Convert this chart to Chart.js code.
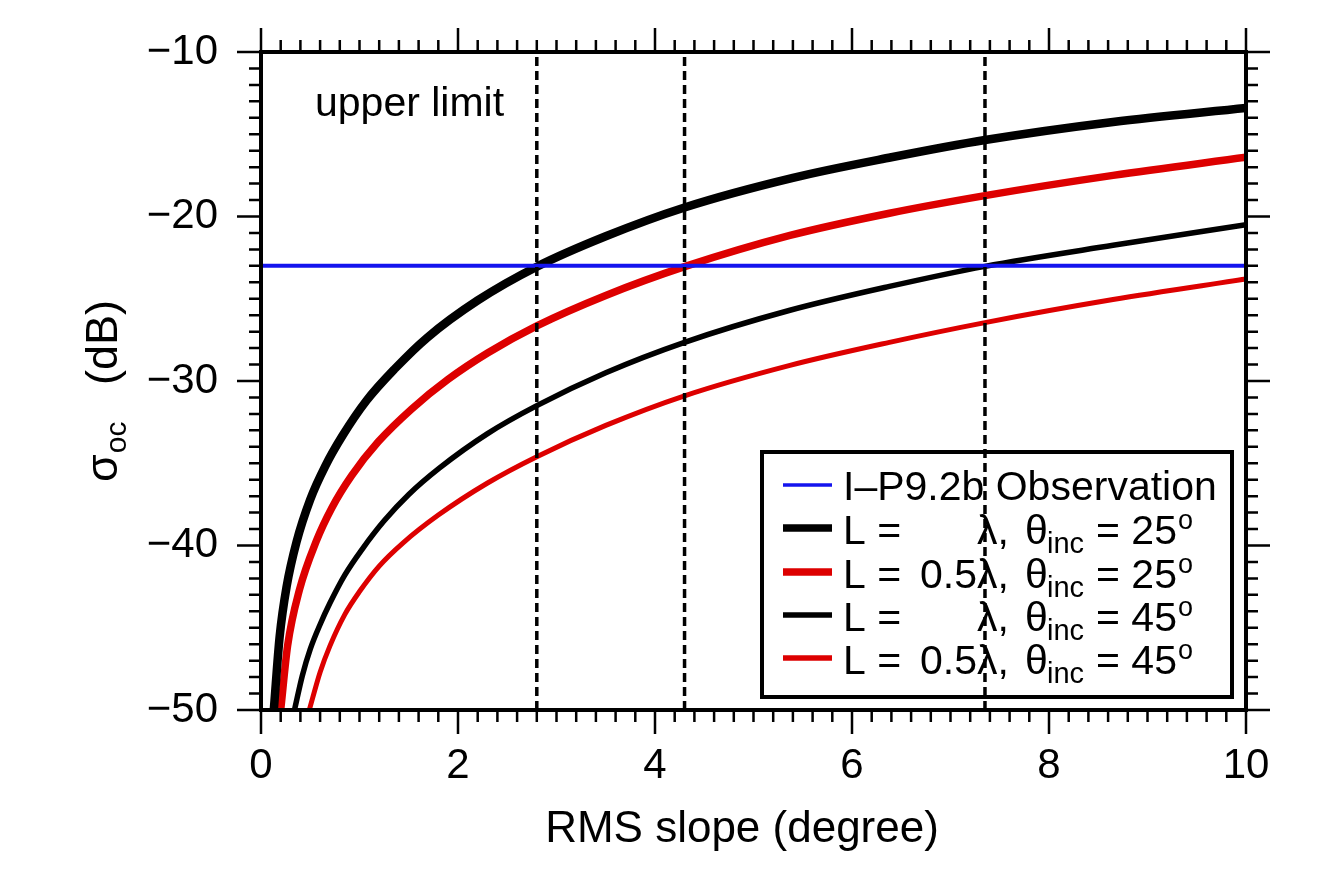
<!DOCTYPE html>
<html>
<head>
<meta charset="utf-8">
<script src="https://cdn.jsdelivr.net/npm/chart.js@4.4.0/dist/chart.umd.min.js"></script>
<style>
html, body { margin: 0; padding: 0; background: #fff; }
#wrap { width: 1339px; height: 872px; }
</style>
</head>
<body>
<div id="wrap"><canvas id="chart_sigma" width="1339" height="872"></canvas></div>
<script>
const FONT = "'Liberation Sans', Arial, Helvetica, sans-serif";

// RMS slope (degree) vs sigma_oc (dB)
const slopeLam25 = [0.13, 0.19, 0.26, 0.36, 0.50, 0.65, 0.83, 1.07, 1.36, 1.69, 2.20, 2.80, 3.50, 4.30, 5.40, 6.40, 7.35, 8.65, 10.0];
const sigmaLam25 = [-50, -45.5, -42.5, -39.8, -37.2, -35.2, -33.3, -31.2, -29.25, -27.35, -25.1, -23.05, -21.2, -19.45, -17.65, -16.4, -15.35, -14.25, -13.4];

const slopeHalf25 = [0.20, 0.27, 0.39, 0.56, 0.72, 0.92, 1.19, 1.53, 1.90, 2.30, 2.80, 3.50, 4.30, 5.37, 6.38, 7.35, 8.65, 10.0];
const sigmaHalf25 = [-50, -46.1, -42.7, -39.75, -37.7, -35.75, -33.7, -31.7, -29.9, -28.3, -26.65, -24.8, -23.05, -21.15, -19.8, -18.73, -17.5, -16.4];

const slopeLam45 = [0.34, 0.42, 0.50, 0.60, 0.70, 0.85, 1.03, 1.25, 1.50, 1.81, 2.30, 2.80, 3.50, 4.30, 5.37, 6.38, 7.35, 8.65, 10.0];
const sigmaLam45 = [-50, -47.9, -46.3, -44.8, -43.5, -41.8, -40.2, -38.5, -36.9, -35.3, -33.2, -31.5, -29.5, -27.65, -25.7, -24.25, -23.03, -21.75, -20.5];

const slopeHalf45 = [0.49, 0.60, 0.70, 0.85, 1.00, 1.20, 1.44, 1.80, 2.30, 2.80, 3.50, 4.30, 5.37, 6.38, 7.35, 8.65, 10.0];
const sigmaHalf45 = [-50, -47.7, -46.1, -44.2, -42.8, -41.25, -39.85, -38.15, -36.2, -34.6, -32.7, -30.9, -29.05, -27.65, -26.45, -25.05, -23.8];

const observedSigma = -23;
const crossSlopes = [2.8, 4.3, 7.35];

const xTicks = [0, 2, 4, 6, 8, 10];
const yTicks = [-50, -40, -30, -20, -10];
const xMinorStep = 0.2;
const yMinorStep = 1;

const xTitle = 'RMS slope (degree)';
const legendObs = 'I\u2013P9.2b Observation';
const legendScale = ['', '0.5', '', '0.5'];
const legendAngle = ['25', '25', '45', '45'];

function toPoints(xs, ys) {
	return xs.map((v, i) => ({x: v, y: ys[i]}));
}

const BLACK = '#000000';
const RED = '#dd0000';
const BLUE = '#1414ee';

const curveStyles = [
	{color: BLACK, width: 8.5},
	{color: RED, width: 7.5},
	{color: BLACK, width: 5.5},
	{color: RED, width: 5}
];

const datasets = [];
crossSlopes.forEach(function(s) {
	datasets.push({
		data: [{x: s, y: -50}, {x: s, y: -10}],
		borderColor: BLACK, borderWidth: 3.5, borderDash: [9, 5],
		pointRadius: 0, order: 0
	});
});
datasets.push({
	data: [{x: 0, y: observedSigma}, {x: 10, y: observedSigma}],
	borderColor: BLUE, borderWidth: 4, pointRadius: 0, order: 1
});
[[slopeLam25, sigmaLam25], [slopeHalf25, sigmaHalf25], [slopeLam45, sigmaLam45], [slopeHalf45, sigmaHalf45]].forEach(function(c, i) {
	datasets.push({
		data: toPoints(c[0], c[1]),
		borderColor: curveStyles[i].color, borderWidth: curveStyles[i].width,
		pointRadius: 0, cubicInterpolationMode: 'monotone', order: 2 + i
	});
});

// frame and outward ticks on all four sides
const frameTicks = {
	id: 'frameTicks',
	afterDatasetsDraw(chart) {
		const {ctx, chartArea: a, scales: {x, y}} = chart;
		ctx.save();
		ctx.strokeStyle = BLACK;
		ctx.lineWidth = 2.5;
		ctx.beginPath();
		const nx = Math.round((x.max - x.min) / xMinorStep);
		for (let i = 0; i <= nx; i++) {
			const v = x.min + i * xMinorStep;
			const px = x.getPixelForValue(v);
			const len = xTicks.some(t => Math.abs(t - v) < 1e-6) ? 24 : 12;
			ctx.moveTo(px, a.bottom); ctx.lineTo(px, a.bottom + len);
			ctx.moveTo(px, a.top); ctx.lineTo(px, a.top - len);
		}
		const ny = Math.round((y.max - y.min) / yMinorStep);
		for (let i = 0; i <= ny; i++) {
			const v = y.min + i * yMinorStep;
			const py = y.getPixelForValue(v);
			const len = yTicks.some(t => Math.abs(t - v) < 1e-6) ? 24 : 12;
			ctx.moveTo(a.left, py); ctx.lineTo(a.left - len, py);
			ctx.moveTo(a.right, py); ctx.lineTo(a.right + len, py);
		}
		ctx.stroke();
		ctx.lineWidth = 4;
		ctx.strokeRect(a.left, a.top, a.right - a.left, a.bottom - a.top);
		ctx.restore();
	}
};

// legend box, "upper limit" note and the axis titles (sigma with subscript)
const annotations = {
	id: 'annotations',
	beforeDatasetsDraw(chart) {
		const ctx = chart.ctx;
		ctx.save();
		ctx.fillStyle = '#fff';
		ctx.fillRect(762, 452, 470, 245);
		ctx.strokeStyle = BLACK;
		ctx.lineWidth = 4;
		ctx.strokeRect(762, 452, 470, 245);

		const rowY = [485, 528, 572, 615, 658];
		const sampleW = [3.5, 7.5, 7.5, 5.5, 5.5];
		const sampleC = [BLUE, BLACK, RED, BLACK, RED];
		rowY.forEach(function(ry, i) {
			ctx.strokeStyle = sampleC[i];
			ctx.lineWidth = sampleW[i];
			ctx.beginPath();
			ctx.moveTo(783, ry); ctx.lineTo(832, ry);
			ctx.stroke();
		});

		ctx.fillStyle = BLACK;
		ctx.textBaseline = 'alphabetic';
		ctx.textAlign = 'left';
		ctx.font = '41px ' + FONT;
		ctx.fillText(legendObs, 843, rowY[0] + 15);
		for (let i = 0; i < 4; i++) {
			const base = rowY[i + 1] + 16;
			ctx.font = '41px ' + FONT;
			ctx.textAlign = 'left';
			ctx.fillText('L =', 843, base);
			ctx.textAlign = 'right';
			ctx.fillText(legendScale[i], 977, base);
			ctx.textAlign = 'left';
			ctx.fillText('\u03bb,', 977, base);
			ctx.fillText('\u03b8', 1025, base);
			ctx.font = '29px ' + FONT;
			ctx.fillText('inc', 1047, base + 9);
			ctx.font = '41px ' + FONT;
			ctx.fillText('= ' + legendAngle[i], 1096, base);
			ctx.font = '27px ' + FONT;
			ctx.fillText('o', 1178, base - 15);
		}

		ctx.font = '41px ' + FONT;
		ctx.textAlign = 'left';
		ctx.fillText('upper limit', 315, 116);

		ctx.font = '44px ' + FONT;
		ctx.textAlign = 'center';
		ctx.textBaseline = 'middle';
		ctx.fillText(xTitle, 742, 830);

		ctx.textAlign = 'left';
		ctx.textBaseline = 'alphabetic';
		ctx.translate(117, 482);
		ctx.rotate(-Math.PI / 2);
		ctx.font = '45px ' + FONT;
		ctx.fillText('\u03c3', 0, 0);
		const sw = ctx.measureText('\u03c3').width;
		ctx.font = '30px ' + FONT;
		ctx.fillText('oc', sw + 1, 9);
		ctx.font = '45px ' + FONT;
		ctx.fillText('(dB)', 97, 0);
		ctx.restore();
	}
};

const chart_sigma = new Chart(document.getElementById('chart_sigma'), {
	type: 'line',
	data: {datasets: datasets},
	options: {
		responsive: false,
		animation: false,
		devicePixelRatio: 1,
		layout: {padding: {left: 0, right: 93, top: 52, bottom: 0}},
		plugins: {
			legend: {display: false},
			tooltip: {enabled: false}
		},
		scales: {
			x: {
				type: 'linear', min: 0, max: 10,
				afterBuildTicks: function(s) { s.ticks = xTicks.map(v => ({value: v})); },
				grid: {display: false, drawTicks: false},
				border: {display: false},
				ticks: {font: {family: FONT, size: 42}, color: BLACK, padding: 31, maxRotation: 0, autoSkip: false},
				afterFit: function(s) { s.height = 162; s.paddingLeft = 0; s.paddingRight = 0; }
			},
			y: {
				type: 'linear', min: -50, max: -10,
				afterBuildTicks: function(s) { s.ticks = yTicks.map(v => ({value: v})); },
				grid: {display: false, drawTicks: false},
				border: {display: false},
				ticks: {
					font: {family: FONT, size: 42}, color: BLACK, padding: 43, autoSkip: false,
					callback: v => String(v).replace('-', '\u2212')
				},
				afterFit: function(s) { s.width = 261; s.paddingTop = 0; s.paddingBottom = 0; }
			}
		}
	},
	plugins: [annotations, frameTicks]
});
</script>
</body>
</html>
